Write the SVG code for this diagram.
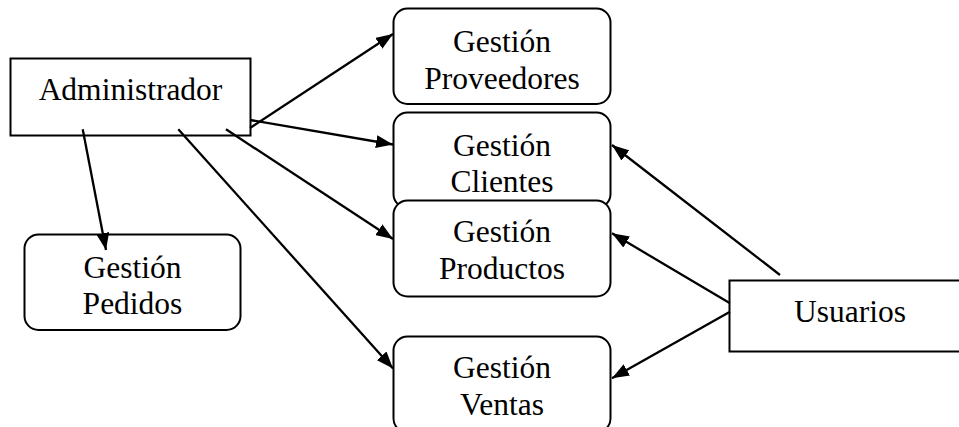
<svg xmlns="http://www.w3.org/2000/svg" width="959" height="427" viewBox="0 0 959 427">
  <style>
    .box { fill: #ffffff; stroke: #000000; stroke-width: 2; }
    .lbl { font-family: "Liberation Serif", "Times New Roman", serif; font-size: 31.5px; fill: #000000; text-anchor: middle; }
    .conn { stroke: #000000; stroke-width: 2.3; fill: none; marker-end: url(#arrow); }
  </style>
  <defs>
    <marker id="arrow" viewBox="0 0 17 13" refX="17" refY="6.5" markerWidth="17" markerHeight="13" markerUnits="userSpaceOnUse" orient="auto">
      <path d="M0,0 L17,6.5 L0,13 Z" fill="#000000"/>
    </marker>
  </defs>

  <!-- Actors -->
  <g id="administrador">
    <rect class="box" x="10.5" y="58.5" width="240" height="77"/>
    <text class="lbl" x="130.5" y="100">Administrador</text>
  </g>
  <g id="usuarios">
    <rect class="box" x="729.5" y="280.5" width="245" height="71"/>
    <text class="lbl" x="850" y="321.5">Usuarios</text>
  </g>

  <!-- Management modules -->
  <g id="gestion-proveedores">
    <rect class="box" x="393.5" y="8.5" width="217" height="95.5" rx="14" ry="14"/>
    <text class="lbl" x="502" y="51.5">Gestión</text>
    <text class="lbl" x="502" y="88.5">Proveedores</text>
  </g>
  <g id="gestion-clientes">
    <rect class="box" x="393.5" y="112.5" width="217" height="95.5" rx="14" ry="14"/>
    <text class="lbl" x="502" y="155.5">Gestión</text>
    <text class="lbl" x="502" y="192">Clientes</text>
  </g>
  <g id="gestion-productos">
    <rect class="box" x="393.5" y="200.5" width="217" height="96" rx="14" ry="14"/>
    <text class="lbl" x="502" y="242">Gestión</text>
    <text class="lbl" x="502" y="278.5">Productos</text>
  </g>
  <g id="gestion-ventas">
    <rect class="box" x="393.5" y="336.5" width="217" height="96" rx="14" ry="14"/>
    <text class="lbl" x="502" y="378">Gestión</text>
    <text class="lbl" x="502" y="415">Ventas</text>
  </g>
  <g id="gestion-pedidos">
    <rect class="box" x="24.5" y="234.5" width="216" height="95.5" rx="14" ry="14"/>
    <text class="lbl" x="132.5" y="278">Gestión</text>
    <text class="lbl" x="132.5" y="314">Pedidos</text>
  </g>

  <!-- Connectors -->
  <g id="connectors">
    <line class="conn" x1="250" y1="128" x2="393" y2="34"/>
    <line class="conn" x1="250" y1="120" x2="393" y2="144.5"/>
    <line class="conn" x1="226" y1="129.3" x2="393" y2="239"/>
    <line class="conn" x1="178.3" y1="129.3" x2="393" y2="368.5"/>
    <line class="conn" x1="82.7" y1="129.3" x2="106" y2="250"/>
    <line class="conn" x1="780" y1="275" x2="612" y2="145"/>
    <line class="conn" x1="730" y1="303.3" x2="612" y2="233.3"/>
    <line class="conn" x1="730" y1="311.7" x2="612" y2="378.3"/>
  </g>
</svg>
